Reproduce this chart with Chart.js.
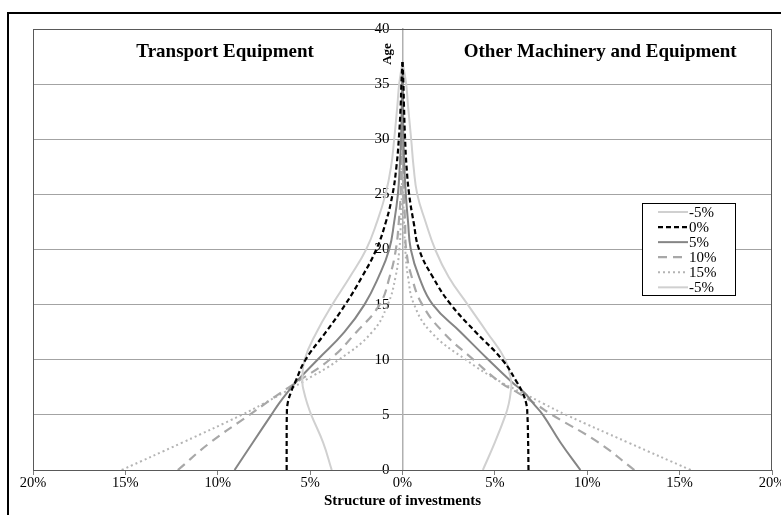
<!DOCTYPE html>
<html>
<head>
<meta charset="utf-8">
<script src="https://cdn.jsdelivr.net/npm/chart.js@4.4.1/dist/chart.umd.min.js"></script>
<style>
  html, body { margin: 0; padding: 0; background: #fff; overflow: hidden; }
  #wrap { position: relative; width: 781px; height: 515px; }
  #frame { position: absolute; left: 7px; top: 12px; width: 800px; height: 600px;
           border-left: 2.5px solid #000; border-top: 2.5px solid #000; pointer-events: none; }
</style>
</head>
<body>
<div id="wrap">
  <canvas id="chart" width="781" height="515"></canvas>
  <div id="frame"></div>
</div>
<script>
// Age of the assets (y axis) - shared by every curve
const ages = [0, 2.5, 5, 6, 7, 8, 10, 12.5, 15, 17.5, 20, 22.5, 25, 27.5, 30, 33, 35, 37];

// Transport Equipment (left panel), share of investments in %
const transportM5 = [3.83, 4.3, 4.94, 5.15, 5.32, 5.42, 5.3, 4.65, 3.8, 2.85, 1.97, 1.38, 0.92, 0.62, 0.45, 0.28, 0.18, 0];
const transport0  = [6.27, 6.27, 6.26, 6.22, 6.05, 5.8, 5.25, 4.15, 3.1, 2.2, 1.42, 0.9, 0.54, 0.33, 0.2, 0.1, 0.06, 0];
const transport5  = [9.09, 8.1, 7.1, 6.7, 6.25, 5.75, 4.6, 3.15, 2.06, 1.3, 0.72, 0.45, 0.25, 0.15, 0.08, 0.04, 0.02, 0];
const transport10 = [12.16, 10.4, 8.28, 7.45, 6.6, 5.7, 3.95, 2.5, 1.24, 0.7, 0.36, 0.2, 0.1, 0.06, 0.03, 0.015, 0.01, 0];
const transport15 = [15.2, 11.9, 8.7, 7.55, 6.45, 5.4, 3.45, 1.65, 0.8, 0.38, 0.17, 0.09, 0.04, 0.02, 0.01, 0, 0, 0];

// Other Machinery and Equipment (right panel)
const machineryM5 = [4.35, 5.0, 5.58, 5.75, 5.85, 5.88, 5.56, 4.57, 3.53, 2.5, 1.77, 1.25, 0.8, 0.6, 0.47, 0.3, 0.2, 0];
const machinery0  = [6.82, 6.8, 6.76, 6.7, 6.5, 6.18, 5.4, 3.97, 2.62, 1.64, 0.9, 0.6, 0.36, 0.22, 0.14, 0.08, 0.05, 0];
const machinery5  = [9.63, 8.55, 7.6, 7.1, 6.6, 5.9, 4.65, 3.15, 1.64, 0.9, 0.45, 0.3, 0.18, 0.1, 0.05, 0.03, 0.02, 0];
const machinery10 = [12.55, 10.6, 8.1, 7.2, 6.25, 5.25, 3.85, 2.2, 1.07, 0.5, 0.2, 0.14, 0.08, 0.05, 0.02, 0.01, 0.01, 0];
const machinery15 = [15.6, 12.2, 8.86, 7.65, 6.5, 5.3, 3.43, 1.55, 0.63, 0.3, 0.15, 0.08, 0.04, 0.02, 0.01, 0, 0, 0];

const seriesLabels = ['-5%', '0%', '5%', '10%', '15%'];
const legendLabels = ['-5%', '0%', '5%', '10%', '15%', '-5%'];
const panelTitles = ['Transport Equipment', 'Other Machinery and Equipment'];
const xTicks = [-20, -15, -10, -5, 0, 5, 10, 15, 20];

const FONT = '"Liberation Serif", "Times New Roman", serif';

// line styles per growth rate
const styles = {
    '-5%': { color: '#d0d0d0', width: 2, dash: [] },
    '0%':  { color: '#000000', width: 2.2, dash: [5, 3] },
    '5%':  { color: '#858585', width: 2, dash: [] },
    '10%': { color: '#a8a8a8', width: 2.2, dash: [9, 6] },
    '15%': { color: '#b4b4b4', width: 2, dash: [2, 3] }
};

const leftSeries = [transportM5, transport0, transport5, transport10, transport15];
const rightSeries = [machineryM5, machinery0, machinery5, machinery10, machinery15];

function makeDataset(label, values, sign) {
    const s = styles[label];
    return {
        label: label,
        data: values.map((v, i) => ({ x: sign * v, y: ages[i] })),
        borderColor: s.color,
        borderWidth: s.width,
        borderDash: s.dash,
        pointRadius: 0,
        tension: 0.45,
        fill: false,
        order: label === '0%' ? 0 : 1
    };
}

const datasets = [];
seriesLabels.forEach((label, i) => {
    datasets.push(makeDataset(label, leftSeries[i], -1));
    datasets.push(makeDataset(label, rightSeries[i], 1));
});

// titles, "Age" label, frame and legend drawn on top
const decorations = {
    id: 'decorations',
    afterDraw(chart) {
        const { ctx, chartArea: a, scales: { x } } = chart;
        ctx.save();

        // plot frame
        ctx.strokeStyle = '#595959';
        ctx.lineWidth = 1;
        ctx.strokeRect(a.left + 0.5, a.top + 0.5, a.right - a.left - 1, a.bottom - a.top);

        // panel titles
        ctx.fillStyle = '#000';
        ctx.font = 'bold 19px ' + FONT;
        ctx.textAlign = 'center';
        ctx.textBaseline = 'alphabetic';
        ctx.fillText(panelTitles[0], x.getPixelForValue(-9.6), 57);
        ctx.fillText(panelTitles[1], x.getPixelForValue(10.7), 57);

        // y axis title
        ctx.save();
        ctx.translate(x.getPixelForValue(0) - 15, 54);
        ctx.rotate(-Math.PI / 2);
        ctx.font = 'bold 13px ' + FONT;
        ctx.textBaseline = 'middle';
        ctx.fillText('Age', 0, 0);
        ctx.restore();

        // legend
        const lx = 642, ly = 203, lw = 93, lh = 92, row = 15.07;
        ctx.fillStyle = '#fff';
        ctx.fillRect(lx, ly, lw, lh);
        ctx.strokeStyle = '#000';
        ctx.lineWidth = 1;
        ctx.strokeRect(lx + 0.5, ly + 0.5, lw, lh);
        ctx.font = '15px ' + FONT;
        ctx.textAlign = 'left';
        ctx.textBaseline = 'middle';
        legendLabels.forEach((label, i) => {
            const s = styles[label];
            const yy = ly + 9 + i * row;
            ctx.strokeStyle = s.color;
            ctx.lineWidth = s.width;
            ctx.setLineDash(s.dash);
            ctx.beginPath();
            ctx.moveTo(lx + 16, yy);
            ctx.lineTo(lx + 46, yy);
            ctx.stroke();
            ctx.setLineDash([]);
            ctx.fillStyle = '#000';
            ctx.fillText(label, lx + 47, yy + 1);
        });

        ctx.restore();
    }
};

new Chart(document.getElementById('chart').getContext('2d'), {
    type: 'line',
    data: { datasets: datasets },
    options: {
        indexAxis: 'y',
        responsive: false,
        animation: false,
        layout: { padding: { left: 33, right: 9, top: 29, bottom: 0 } },
        elements: { line: { tension: 0.45 } },
        plugins: {
            legend: { display: false },
            tooltip: { enabled: false }
        },
        scales: {
            x: {
                type: 'linear',
                position: 'bottom',
                min: -20,
                max: 20,
                afterBuildTicks: s => { s.ticks = xTicks.map(v => ({ value: v })); },
                afterFit: s => { s.height = 45; s.paddingLeft = 0; s.paddingRight = 0; },
                grid: { drawOnChartArea: false, drawTicks: true, tickLength: 5, color: '#808080' },
                border: { display: true, color: '#808080' },
                ticks: {
                    color: '#000',
                    padding: -1,
                    maxRotation: 0,
                    font: { family: FONT, size: 14.5 },
                    callback: v => Math.abs(v) + '%'
                },
                title: {
                    display: true,
                    text: 'Structure of investments',
                    color: '#000',
                    font: { family: FONT, size: 15, weight: 'bold' },
                    padding: { top: 0, bottom: 5 }
                }
            },
            y: {
                type: 'linear',
                position: 'center',
                min: 0,
                max: 40,
                ticks: {
                    stepSize: 5,
                    color: '#000',
                    padding: 13,
                    font: { family: FONT, size: 15 }
                },
                grid: { color: '#a3a3a3', lineWidth: 1, drawTicks: false },
                border: { display: true, color: '#b0b0b0', width: 1.5 }
            }
        }
    },
    plugins: [decorations]
});
</script>
</body>
</html>
